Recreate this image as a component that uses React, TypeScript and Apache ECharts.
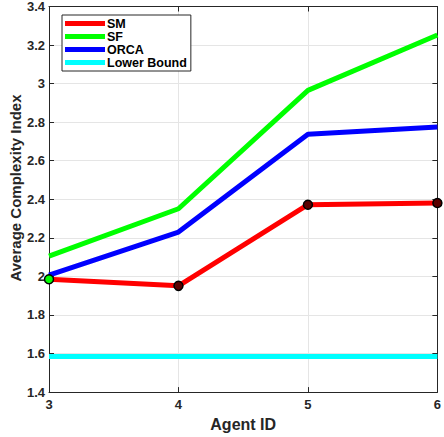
import React, { useEffect, useRef } from "react";
import * as echarts from "echarts";

const agentIds = [3, 4, 5, 6];
const smValues = [1.985, 1.951, 2.372, 2.381];
const sfValues = [2.105, 2.351, 2.965, 3.252];
const orcaValues = [2.007, 2.23, 2.737, 2.775];
const lowerBoundValues = [1.585, 1.585, 1.585, 1.585];
const seriesNames = ["SM", "SF", "ORCA", "Lower Bound"];
const seriesColors = ["#ff0000", "#00ff00", "#0000ff", "#00ffff"];
const xTitle = "Agent ID";
const yTitle = "Average Complexity Index";

const FONT = "Liberation Sans, Arial, Helvetica, sans-serif";
const AXIS_COLOR = "#262626";

export default function App() {
  const ref = useRef<HTMLDivElement>(null);
  useEffect(() => {
    if (!ref.current) return;
    const chart = echarts.init(ref.current, undefined, { renderer: "svg" });
    const pairs = (vals: number[]) => agentIds.map((x, i) => [x, vals[i]]);
    const smData = agentIds.map((x, i) => ({
      value: [x, smValues[i]],
      itemStyle:
        i === 0
          ? { color: "#00ff00", borderColor: "#000", borderWidth: 1.5 }
          : { color: "#5a0000", borderColor: "#000", borderWidth: 1.5 },
    }));
    const allVals = [smValues, sfValues, orcaValues, lowerBoundValues];
    const axisCommon = {
      axisLine: { show: true, lineStyle: { color: AXIS_COLOR, width: 1 } },
      axisTick: { show: true, inside: true, length: 5, lineStyle: { color: AXIS_COLOR } },
    };
    chart.setOption({
      animation: false,
      backgroundColor: "#ffffff",
      grid: { left: 49, right: 3, top: 6, bottom: 40, containLabel: false },
      graphic: [
        {
          type: "text",
          x: 15,
          y: 188,
          rotation: Math.PI / 2,
          style: {
            text: yTitle,
            fontFamily: FONT,
            fontWeight: "bold",
            fontSize: 15,
            fill: AXIS_COLOR,
            align: "center",
            verticalAlign: "middle",
          },
        },
      ],
      legend: {
        show: true,
        orient: "vertical",
        left: 62,
        top: 15,
        padding: [2, 4, 2, 3],
        itemGap: 0,
        itemWidth: 40,
        itemHeight: 5,
        icon: "rect",
        borderColor: AXIS_COLOR,
        borderWidth: 1,
        backgroundColor: "#ffffff",
        data: seriesNames,
        textStyle: {
          fontFamily: FONT,
          fontWeight: "bold",
          fontSize: 12.5,
          color: "#000",
          lineHeight: 12.5,
          padding: [0, 0, 0, -3],
        },
      },
      xAxis: [
        {
          type: "value",
          min: 3,
          max: 6,
          interval: 1,
          ...axisCommon,
          axisLabel: {
            fontFamily: FONT,
            fontWeight: "bold",
            fontSize: 13,
            color: AXIS_COLOR,
            margin: 6,
          },
          splitLine: { show: true, lineStyle: { color: "#e5e5e5", width: 1 } },
          name: xTitle,
          nameLocation: "middle",
          nameGap: 21,
          nameTextStyle: {
            fontFamily: FONT,
            fontWeight: "bold",
            fontSize: 16,
            color: AXIS_COLOR,
          },
        },
        {
          type: "value",
          position: "top",
          min: 3,
          max: 6,
          interval: 1,
          ...axisCommon,
          axisLabel: { show: false },
          splitLine: { show: false },
        },
      ],
      yAxis: [
        {
          type: "value",
          min: 1.4,
          max: 3.4,
          interval: 0.2,
          ...axisCommon,
          axisLabel: {
            fontFamily: FONT,
            fontWeight: "bold",
            fontSize: 13,
            color: AXIS_COLOR,
            margin: 4,
            formatter: (v: number) => String(Math.round(v * 10) / 10),
          },
          splitLine: { show: true, lineStyle: { color: "#e5e5e5", width: 1 } },
        },
        {
          type: "value",
          position: "right",
          min: 1.4,
          max: 3.4,
          interval: 0.2,
          ...axisCommon,
          axisLabel: { show: false },
          splitLine: { show: false },
        },
      ],
      series: seriesNames.map((name, si) => ({
        name,
        type: "line",
        xAxisIndex: 0,
        yAxisIndex: 0,
        data: si === 0 ? smData : pairs(allVals[si]),
        showSymbol: si === 0,
        symbol: "circle",
        symbolSize: 9,
        z: si === 0 ? 5 : 3,
        color: seriesColors[si],
        lineStyle: { color: seriesColors[si], width: 5 },
        itemStyle: { color: seriesColors[si] },
        emphasis: { disabled: true },
      })),
    });
    return () => chart.dispose();
  }, []);
  return <div ref={ref} style={{ width: 444, height: 437, position: "absolute", left: 0, top: 0 }} />;
}
